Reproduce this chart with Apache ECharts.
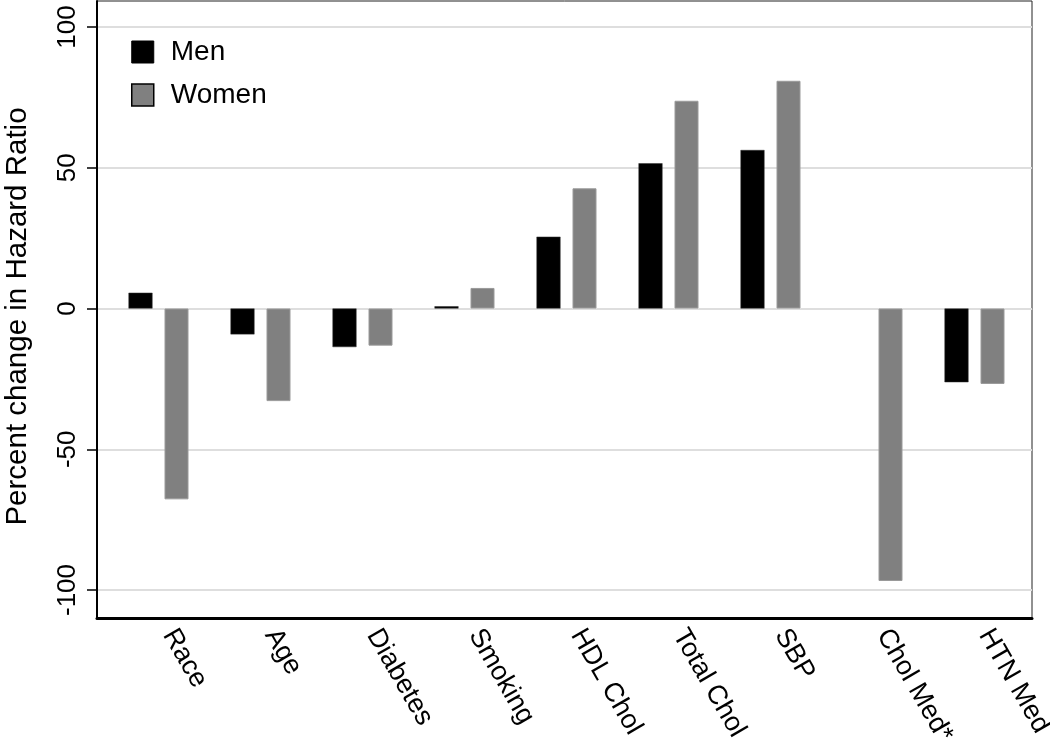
<!DOCTYPE html>
<html>
<head>
<meta charset="utf-8">
<script src="https://cdn.jsdelivr.net/npm/echarts@6/dist/echarts.min.js"></script>
<style>
html,body{margin:0;padding:0;background:#fff;}
#chart{width:1050px;height:747px;}
</style>
</head>
<body>
<div id="chart"></div>
<script>
var categories = ['Race', 'Age', 'Diabetes', 'Smoking', 'HDL Chol', 'Total Chol', 'SBP', 'Chol Med*', 'HTN Med'];
var menValues = [5.6, -9.2, -13.7, 0.8, 25.5, 51.6, 56.3, null, -26.2];
var womenValues = [-67.8, -32.9, -13.2, 7.3, 42.7, 73.8, 80.9, -96.8, -26.8];
var yTicks = [-100, -50, 0, 50, 100];

var FONT = '"Liberation Sans", Arial, sans-serif';
var chart = echarts.init(document.getElementById('chart'));

chart.setOption({
  backgroundColor: '#fff',
  animation: false,
  textStyle: { fontFamily: FONT },
  legend: {
    orient: 'vertical',
    left: 131,
    top: 38,
    padding: 0,
    itemWidth: 22,
    itemHeight: 22,
    itemGap: 15,
    icon: 'rect',
    textStyle: { fontFamily: FONT, fontSize: 28, color: '#000', lineHeight: 22, padding: [0, 0, 0, 12] },
    data: [
      { name: 'Men', itemStyle: { borderColor: '#000', borderWidth: 1 } },
      { name: 'Women', itemStyle: { borderColor: '#000', borderWidth: 1.5 } }
    ]
  },
  grid: [
    { left: 97, right: 18, top: 27, bottom: 157, outerBoundsMode: 'none', containLabel: false },
    { left: 97, right: 18, top: 1, bottom: 129, show: true, borderColor: '#222', borderWidth: 1, backgroundColor: 'transparent', outerBoundsMode: 'none', containLabel: false },
    { left: 107.5, right: 24.5, top: 27, bottom: 157, outerBoundsMode: 'none', containLabel: false }
  ],
  xAxis: [
    { gridIndex: 0, type: 'category', data: categories, show: false },
    { gridIndex: 1, type: 'category', data: categories,
      axisLine: { show: true, onZero: false, lineStyle: { color: '#000', width: 3 } },
      axisTick: { show: false }, axisLabel: { show: false }, splitLine: { show: false } },
    { gridIndex: 2, type: 'category', data: categories,
      axisLine: { show: false }, axisTick: { show: false },
      axisLabel: { interval: 0, rotate: -60, fontSize: 27, color: '#000', fontFamily: FONT,
        margin: 47, verticalAlign: 'bottom', lineHeight: 24 } }
  ],
  yAxis: [
    { gridIndex: 0, type: 'value', min: yTicks[0], max: yTicks[yTicks.length - 1], interval: 50,
      name: 'Percent change in Hazard Ratio', nameLocation: 'middle', nameRotate: 90, nameGap: 64,
      nameTextStyle: { fontSize: 29.5, color: '#000', fontFamily: FONT, padding: [0, 16, 0, 0] },
      axisLine: { show: false },
      axisTick: { show: true, length: 10, lineStyle: { color: '#000', width: 1.5 } },
      axisLabel: { rotate: 90, fontSize: 26, color: '#000', fontFamily: FONT, margin: 16 },
      splitLine: { show: true, lineStyle: { color: '#dedede', width: 2 } } },
    { gridIndex: 1, type: 'value', min: -110, max: 110,
      axisLine: { show: true, onZero: false, lineStyle: { color: '#000', width: 2 } },
      axisTick: { show: false }, axisLabel: { show: false }, splitLine: { show: false } },
    { gridIndex: 2, type: 'value', min: yTicks[0], max: yTicks[yTicks.length - 1], show: false, splitLine: { show: false } }
  ],
  series: [
    { name: 'Men', type: 'bar', xAxisIndex: 2, yAxisIndex: 2, data: menValues,
      barWidth: 24, barGap: '50%',
      itemStyle: { color: '#000', borderColor: '#333', borderWidth: 0.5 } },
    { name: 'Women', type: 'bar', xAxisIndex: 2, yAxisIndex: 2, data: womenValues,
      barWidth: 24, barGap: '50%',
      itemStyle: { color: '#808080', borderColor: '#9a9a9a', borderWidth: 1 } }
  ]
});
</script>
</body>
</html>
